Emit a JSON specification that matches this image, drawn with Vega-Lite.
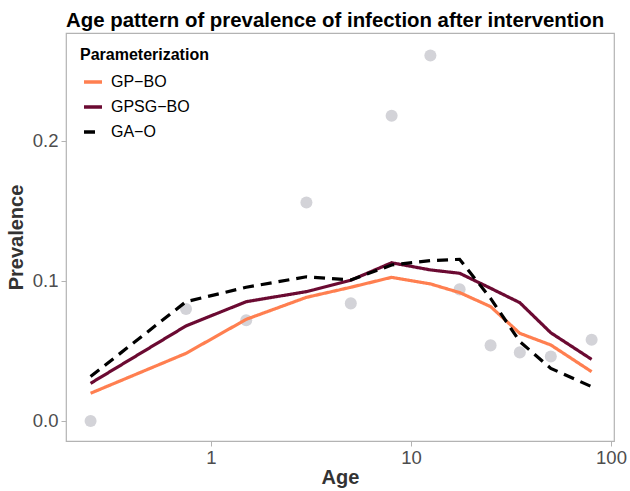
{
  "$schema": "https://vega.github.io/schema/vega-lite/v6.json",
  "width": 548,
  "height": 408,
  "autosize": "none",
  "padding": {"left": 66, "top": 33, "right": 16, "bottom": 50},
  "background": "white",
  "title": {
    "text": "Age pattern of prevalence of infection after intervention",
    "anchor": "start",
    "frame": "group",
    "font": "Liberation Sans",
    "fontSize": 20.4,
    "fontWeight": "bold",
    "color": "#000000",
    "offset": 2
  },
  "config": {
    "font": "Liberation Sans",
    "view": {"stroke": "#B3B3B3", "strokeWidth": 1.2},
    "axis": {
      "domain": false,
      "grid": false,
      "ticks": true,
      "tickColor": "#B3B3B3",
      "tickSize": 5,
      "labelFont": "Liberation Sans",
      "labelFontSize": 18.5,
      "labelColor": "#4D4D4D",
      "titleFont": "Liberation Sans",
      "titleFontSize": 20,
      "titleFontWeight": "bold",
      "titleColor": "#333333"
    }
  },
  "datasets": {
    "obs": [
      {"age": 0.25, "prev": 0.0},
      {"age": 0.75, "prev": 0.080},
      {"age": 1.5, "prev": 0.072},
      {"age": 3, "prev": 0.156},
      {"age": 5, "prev": 0.084},
      {"age": 8, "prev": 0.218},
      {"age": 12.5, "prev": 0.261},
      {"age": 17.5, "prev": 0.094},
      {"age": 25, "prev": 0.054},
      {"age": 35, "prev": 0.049},
      {"age": 50, "prev": 0.046},
      {"age": 80, "prev": 0.058}
    ],
    "fits": [
      {"model": "GP−BO", "age": 0.25, "prev": 0.0198},
      {"model": "GP−BO", "age": 0.75, "prev": 0.0483},
      {"model": "GP−BO", "age": 1.5, "prev": 0.0726},
      {"model": "GP−BO", "age": 3, "prev": 0.0883},
      {"model": "GP−BO", "age": 5, "prev": 0.0955},
      {"model": "GP−BO", "age": 8, "prev": 0.1026},
      {"model": "GP−BO", "age": 12.5, "prev": 0.0979},
      {"model": "GP−BO", "age": 17.5, "prev": 0.0917},
      {"model": "GP−BO", "age": 25, "prev": 0.0817},
      {"model": "GP−BO", "age": 35, "prev": 0.0626},
      {"model": "GP−BO", "age": 50, "prev": 0.0543},
      {"model": "GP−BO", "age": 80, "prev": 0.0352},
      {"model": "GPSG−BO", "age": 0.25, "prev": 0.0269},
      {"model": "GPSG−BO", "age": 0.75, "prev": 0.0679},
      {"model": "GPSG−BO", "age": 1.5, "prev": 0.0852},
      {"model": "GPSG−BO", "age": 3, "prev": 0.0924},
      {"model": "GPSG−BO", "age": 5, "prev": 0.1005},
      {"model": "GPSG−BO", "age": 8, "prev": 0.113},
      {"model": "GPSG−BO", "age": 12.5, "prev": 0.1079},
      {"model": "GPSG−BO", "age": 17.5, "prev": 0.1055},
      {"model": "GPSG−BO", "age": 25, "prev": 0.0948},
      {"model": "GPSG−BO", "age": 35, "prev": 0.0845},
      {"model": "GPSG−BO", "age": 50, "prev": 0.063},
      {"model": "GPSG−BO", "age": 80, "prev": 0.044},
      {"model": "GA−O", "age": 0.25, "prev": 0.0317},
      {"model": "GA−O", "age": 0.75, "prev": 0.0852},
      {"model": "GA−O", "age": 1.5, "prev": 0.0955},
      {"model": "GA−O", "age": 3, "prev": 0.103},
      {"model": "GA−O", "age": 5, "prev": 0.1007},
      {"model": "GA−O", "age": 8, "prev": 0.1114},
      {"model": "GA−O", "age": 12.5, "prev": 0.1145},
      {"model": "GA−O", "age": 17.5, "prev": 0.1155},
      {"model": "GA−O", "age": 25, "prev": 0.0876},
      {"model": "GA−O", "age": 35, "prev": 0.0567},
      {"model": "GA−O", "age": 50, "prev": 0.0376},
      {"model": "GA−O", "age": 80, "prev": 0.0245}
    ]
  },
  "encoding": {
    "x": {
      "field": "age",
      "type": "quantitative",
      "title": "Age",
      "scale": {"type": "log", "domain": [0.1884, 103.5], "nice": false},
      "axis": {"values": [1, 10, 100], "format": "~g", "labelPadding": 2, "titlePadding": 1, "labelFlush": false}
    },
    "y": {
      "field": "prev",
      "type": "quantitative",
      "title": "Prevalence",
      "scale": {"domain": [-0.01429, 0.2771], "nice": false, "zero": false},
      "axis": {"values": [0, 0.1, 0.2], "format": ".1f", "labelPadding": 3, "titlePadding": 6, "labelFlush": false}
    }
  },
  "layer": [
    {
      "data": {"name": "obs"},
      "mark": {"type": "circle", "size": 145, "color": "#D3D3D8", "opacity": 1}
    },
    {
      "data": {"name": "fits"},
      "mark": {"type": "line", "strokeWidth": 3.2},
      "encoding": {
        "color": {
          "field": "model",
          "type": "nominal",
          "title": "Parameterization",
          "scale": {"domain": ["GP−BO", "GPSG−BO", "GA−O"], "range": ["#FF7F50", "#6B0A32", "#000000"]},
          "legend": {
            "orient": "none",
            "legendX": 14,
            "legendY": 14,
            "titleFont": "Liberation Sans",
            "titleFontSize": 16,
            "titleFontWeight": "bold",
            "titleColor": "#000000",
            "titlePadding": 8,
            "labelFont": "Liberation Sans",
            "labelFontSize": 16,
            "labelColor": "#000000",
            "labelOffset": 7,
            "symbolOffset": 2,
            "symbolType": "stroke",
            "symbolSize": 324,
            "symbolStrokeWidth": 3.5,
            "rowPadding": 6,
            "fillColor": "white"
          }
        },
        "strokeDash": {
          "field": "model",
          "type": "nominal",
          "title": "Parameterization",
          "scale": {"domain": ["GP−BO", "GPSG−BO", "GA−O"], "range": [[1, 0], [1, 0], [11, 7]]},
          "legend": {
            "orient": "none",
            "legendX": 14,
            "legendY": 14,
            "titleFont": "Liberation Sans",
            "titleFontSize": 16,
            "titleFontWeight": "bold",
            "titleColor": "#000000",
            "titlePadding": 8,
            "labelFont": "Liberation Sans",
            "labelFontSize": 16,
            "labelColor": "#000000",
            "labelOffset": 7,
            "symbolOffset": 2,
            "symbolType": "stroke",
            "symbolSize": 324,
            "symbolStrokeWidth": 3.5,
            "rowPadding": 6,
            "fillColor": "white"
          }
        }
      }
    }
  ]
}
